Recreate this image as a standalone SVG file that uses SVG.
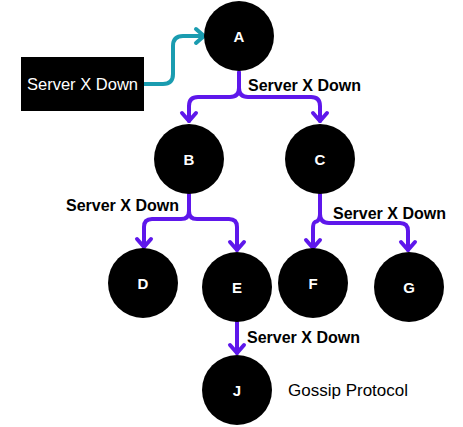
<svg xmlns="http://www.w3.org/2000/svg" width="463" height="427" viewBox="0 0 463 427">
<style>
.node circle{fill:#000}
.node text{fill:#fff;font-family:"Liberation Sans",Arial,sans-serif;font-weight:bold;font-size:15px;text-anchor:middle}
.edge{fill:none;stroke:#5e17eb;stroke-width:4;stroke-linecap:round;stroke-linejoin:round}
.teal{fill:none;stroke:#1a9cb0;stroke-width:4;stroke-linecap:round;stroke-linejoin:round}
.lbl{font-family:"Liberation Sans",Arial,sans-serif;font-weight:bold;font-size:16px;fill:#000}
</style>
<rect width="463" height="427" fill="#fff"/>
<g id="connectors">
<path class="teal" d="M144,84 H163 Q173,84 173,74 V46 Q173,36 183,36 H203"/>
<path class="teal" d="M196,29 L204,36 L196,43"/>
<path class="edge" d="M239,72 V88 Q239,97 230,97 H198 Q189,97 189,106 V121"/>
<path class="edge" d="M239,88 Q239,97 248,97 H311 Q320,97 320,106 V121"/>
<path class="edge" d="M182,113 L189,121 L196,113"/>
<path class="edge" d="M313,113 L320,121 L327,113"/>
<path class="edge" d="M189,194 V211 Q189,219 181,219 H152 Q144,219 144,227 V247"/>
<path class="edge" d="M189,211 Q189,219 197,219 H229 Q237,219 237,227 V250"/>
<path class="edge" d="M137,239 L144,247 L151,239"/>
<path class="edge" d="M230,242 L237,250 L244,242"/>
<path class="edge" d="M320,194 V214 Q320,221 315,222 Q313,223 313,229 V248"/>
<path class="edge" d="M320,214 Q320,223 329,223 H400 Q408,223 408,231 V250"/>
<path class="edge" d="M306,240 L313,248 L320,240"/>
<path class="edge" d="M401,242 L408,250 L415,242"/>
<path class="edge" d="M237,322 V353"/>
<path class="edge" d="M230,345 L237,353 L244,345"/>
</g>
<g id="source">
<rect x="21" y="57" width="123" height="54" fill="#000"/>
<text x="82.5" y="90" fill="#fff" font-family="Liberation Sans,Arial,sans-serif" font-size="16.5" text-anchor="middle">Server X Down</text>
</g>
<g id="A" class="node"><circle cx="239" cy="36" r="35"/><text x="239" y="42">A</text></g>
<g id="B" class="node"><circle cx="189" cy="159" r="35"/><text x="189" y="165">B</text></g>
<g id="C" class="node"><circle cx="320" cy="159" r="35"/><text x="320" y="165">C</text></g>
<g id="D" class="node"><circle cx="143" cy="283" r="35"/><text x="143" y="289">D</text></g>
<g id="E" class="node"><circle cx="237" cy="287" r="35"/><text x="237" y="293">E</text></g>
<g id="F" class="node"><circle cx="313" cy="283" r="35"/><text x="313" y="289">F</text></g>
<g id="G" class="node"><circle cx="409" cy="287" r="35"/><text x="409" y="293">G</text></g>
<g id="J" class="node"><circle cx="237" cy="390" r="35"/><text x="237" y="396">J</text></g>
<g id="labels">
<text class="lbl" x="248" y="91">Server X Down</text>
<text class="lbl" x="66" y="211">Server X Down</text>
<text class="lbl" x="333" y="219">Server X Down</text>
<text class="lbl" x="247" y="343">Server X Down</text>
<text x="288" y="396" font-family="Liberation Sans,Arial,sans-serif" font-size="17" fill="#000">Gossip Protocol</text>
</g>
</svg>
